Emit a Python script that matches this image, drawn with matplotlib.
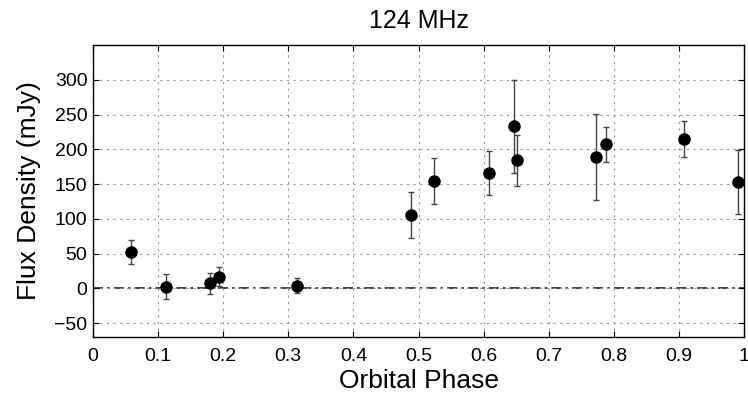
import numpy as np
import matplotlib
matplotlib.use('Agg')
import matplotlib.pyplot as plt

plt.rcParams['font.family'] = ['Liberation Sans', 'DejaVu Sans']

# orbital phase, flux density (mJy), 1-sigma error
phase = [0.058, 0.112, 0.179, 0.194, 0.314, 0.488, 0.524, 0.609,
         0.646, 0.652, 0.773, 0.788, 0.908, 0.990]
flux = [52, 2, 7, 17, 4, 106, 155, 166, 233, 184, 189, 207, 215, 153]
err = [17, 18, 15, 14, 11, 33, 33, 32, 67, 37, 62, 25, 26, 46]

xticks = np.arange(0, 1.01, 0.1)
xticklabels = ['0', '0.1', '0.2', '0.3', '0.4', '0.5', '0.6', '0.7', '0.8', '0.9', '1']
yticks = [-50, 0, 50, 100, 150, 200, 250, 300]

fig = plt.figure(figsize=(7.48, 4), dpi=100)
ax = fig.add_axes([0.1243, 0.1575, 0.8704, 0.73])

# zero reference line
ax.axhline(0, color='#222222', lw=1.2, dashes=(6, 2.5, 1.5, 2.5), zorder=1)

ax.errorbar(phase, flux, yerr=err, fmt='o', color='black', ms=8,
            ecolor='#444444', elinewidth=1.0, capsize=2.5, capthick=1.0, zorder=3)

ax.set_xlim(0, 1)
ax.set_ylim(-70, 350)
ax.set_xticks(xticks)
ax.set_xticklabels(xticklabels)
ax.set_yticks(yticks)
ax.set_yticklabels([str(t).replace('-', '\u2212') for t in yticks])

ax.grid(True, color='#999999', lw=0.8, ls=(0, (2, 4)))
ax.tick_params(direction='in', top=True, right=True, length=4, labelsize=14)
ax.tick_params(axis='x', pad=8)
ax.tick_params(axis='y', pad=4)
for s in ax.spines.values():
    s.set_linewidth(1.0)

ax.set_xlabel('Orbital Phase', fontsize=19)
ax.set_ylabel('Flux Density (mJy)', fontsize=19)
ax.xaxis.set_label_coords(0.5, -0.108)
ax.yaxis.set_label_coords(-0.08, 0.5)
ax.set_title('124 MHz', fontsize=18, pad=12)

fig.savefig('out.png', dpi=100)
